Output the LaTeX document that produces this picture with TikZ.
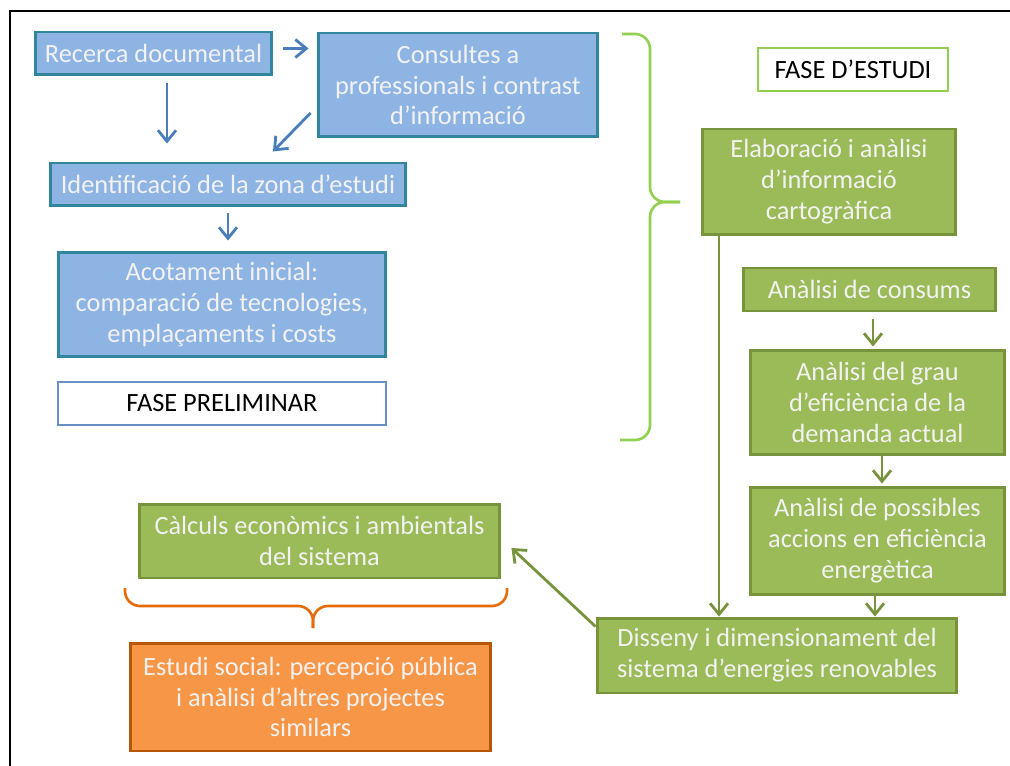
\documentclass[tikz,border=0pt]{standalone}
\usepackage{fontspec}
\setmainfont{Carlito}
\usepackage{tikz}
\usetikzlibrary{positioning}
\usetikzlibrary{arrows.meta}
\definecolor{bfill}{HTML}{8EB4E3}
\definecolor{bdraw}{HTML}{31859C}
\definecolor{barr}{HTML}{4A7EBB}
\definecolor{gfill}{HTML}{9BBB59}
\definecolor{gdraw}{HTML}{77933C}
\definecolor{gbrace}{HTML}{92D050}
\definecolor{ofill}{HTML}{F79646}
\definecolor{odraw}{HTML}{B65708}
\definecolor{obrace}{HTML}{E46C0A}
\definecolor{ptext}{HTML}{F2F2F2}
\tikzset{>=stealth}
\tikzstyle{box} = [draw, line width=1.7pt, inner sep=0pt, align=center,
  text=ptext, font=\fontsize{15}{17.6}\selectfont]
\tikzstyle{line} = [draw, line width=1.6pt, -{Straight Barb[length=0.22cm,width=0.36cm]}]

\begin{document}
\begin{tikzpicture}[x=0.02cm, y=-0.02cm,
  bbox/.style={box, fill=bfill, draw=bdraw},
  gbox/.style={box, fill=gfill, draw=gdraw},
  obox/.style={box, fill=ofill, draw=odraw},
  phase/.style={box, fill=white, text=black, line width=1.5pt}]
  \useasboundingbox (0,0) rectangle (1010,766);
  %% frame
  \draw [line width=1.3pt] (10,766) -- (10,11) -- (1010,11);
  %% Fase preliminar
  \node [bbox, minimum width=4.74cm, minimum height=0.86cm] (rec) at (153.5,53.5) {Recerca documental};
  \node [bbox, minimum width=5.6cm, minimum height=2.08cm] (cons) at (458,85)
  {Consultes a\\professionals i contrast\\d'informació};
  \node [bbox, minimum width=7.12cm, minimum height=0.86cm] (ident) at (228,184.5)
  {Identificació de la zona d'estudi};
  \node [bbox, minimum width=6.56cm, minimum height=2.1cm] (acot) at (222,304.5)
  {Acotament inicial:\\comparació de tecnologies,\\emplaçaments i costs};
  \node [phase, draw=barr!85!white, minimum width=6.56cm, minimum height=0.86cm] (fprel) at (222,403.5)
  {FASE PRELIMINAR};
  %% Fase d'estudi
  \node [phase, draw=gbrace, minimum width=3.8cm, minimum height=0.86cm] (fest) at (853,69.5)
  {FASE D'ESTUDI};
  \node [gbox, minimum width=5.08cm, minimum height=2.12cm] (elab) at (829,182)
  {Elaboració i anàlisi\\d'informació\\cartogràfica};
  \node [gbox, minimum width=5.06cm, minimum height=0.86cm] (consum) at (869.5,289.5)
  {Anàlisi de consums};
  \node [gbox, minimum width=5.1cm, minimum height=2.1cm] (grau) at (877.5,402.5)
  {Anàlisi del grau\\d'eficiència de la\\demanda actual};
  \node [gbox, minimum width=5.1cm, minimum height=2.16cm] (poss) at (877.5,541)
  {Anàlisi de possibles\\accions en eficiència\\energètica};
  \node [gbox, minimum width=7.2cm, minimum height=1.5cm] (diss) at (777,655.5)
  {Disseny i dimensionament del\\sistema d'energies renovables};
  \node [gbox, minimum width=7.22cm, minimum height=1.48cm] (calc) at (319.5,541)
  {Càlculs econòmics i ambientals\\del sistema};
  \node [obox, minimum width=7.22cm, minimum height=2.16cm] (soc) at (310.5,697)
  {Estudi social: percepció pública\\i anàlisi d'altres projectes\\similars};
  %% Arrows
  \path [line, draw=barr, shorten <=0.2cm, shorten >=0.16cm]
  ([yshift=0.1cm]rec.east) to ([yshift=0.1cm]rec.east -| cons.west);
  \path [line, draw=barr, shorten <=0.14cm, shorten >=0.36cm]
  ([xshift=0.27cm]rec.south) to ([xshift=0.27cm]rec.south |- ident.north);
  \path [line, draw=barr] ([xshift=-0.12cm,yshift=-0.56cm]cons.west) to ([xshift=0.9cm,yshift=0.2cm]ident.north);
  \path [line, draw=barr, shorten <=0.12cm, shorten >=0.2cm]
  (ident.south) to (ident.south |- acot.north);
  \path [line, draw=gdraw] ([xshift=-2.2cm]elab.south) to ([xshift=-2.2cm]elab.south |- diss.north);
  \path [line, draw=gdraw, shorten <=0.14cm, shorten >=0.04cm]
  ([xshift=0.07cm]consum.south) to ([xshift=0.07cm]consum.south |- grau.north);
  \path [line, draw=gdraw, shorten >=0.04cm]
  ([xshift=0.09cm]grau.south) to ([xshift=0.09cm]grau.south |- poss.north);
  \path [line, draw=gdraw] ([xshift=-0.05cm]poss.south) to ([xshift=-0.05cm]poss.south |- diss.north);
  \path [line, draw=gdraw] ([yshift=-0.2cm]diss.north west) to ([xshift=0.2cm,yshift=-0.14cm]calc.east);
  %% Braces
  \draw [gbrace, line width=1.5pt, rounded corners=0.3cm] (622,34) -- (650,34) -- (650,202) -- (680,202);
  \draw [gbrace, line width=1.5pt, rounded corners=0.3cm] (680,202) -- (650,202) -- (650,440) -- (620,440);
  \draw [obrace, line width=1.5pt, rounded corners=0.3cm] (125,588) -- (125,606) -- (313,606) -- (313,628);
  \draw [obrace, line width=1.5pt, rounded corners=0.3cm] (313,628) -- (313,606) -- (507,606) -- (507,588);
\end{tikzpicture}
\end{document}
